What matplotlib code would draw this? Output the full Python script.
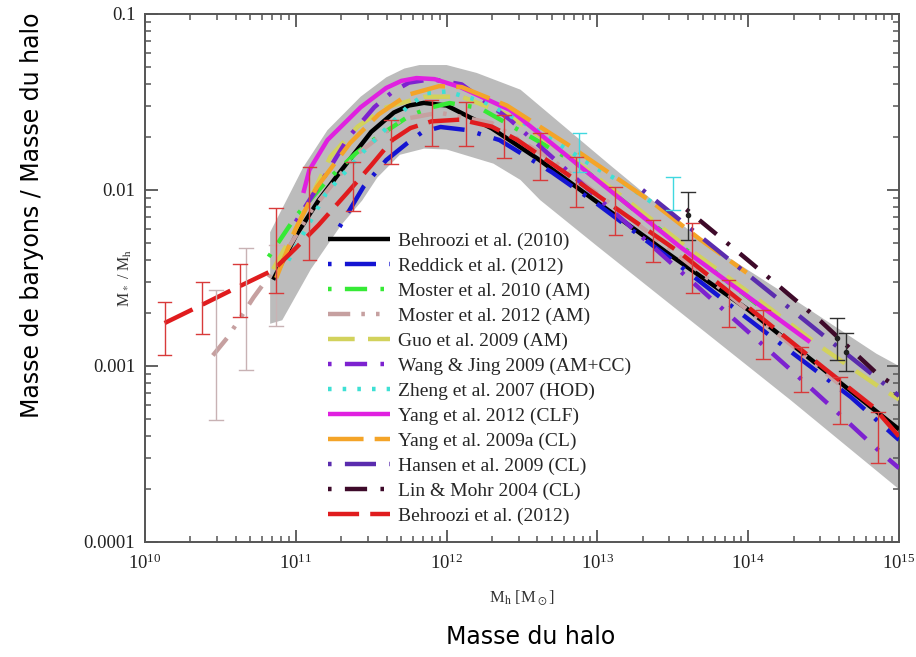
import numpy as np
import matplotlib
matplotlib.use("Agg")
import matplotlib.pyplot as plt
from matplotlib.ticker import LogLocator, FixedLocator, FixedFormatter, NullFormatter

plt.rcParams['mathtext.fontset'] = 'stix'
plt.rcParams['font.family'] = ['Liberation Serif', 'DejaVu Serif']

# ---------------- data (log10 values) ----------------
band_lx = [10.83, 11.05, 11.21, 11.43, 11.60, 11.72, 11.82, 12.00, 12.20, 12.49, 13.10, 13.68, 14.30, 14.85, 15.00]
band_up = [-2.24, -1.87, -1.66, -1.47, -1.36, -1.31, -1.29, -1.29, -1.335, -1.43, -1.87, -2.28, -2.62, -2.93, -3.00]
band_lo_lx = [10.83, 10.91, 11.10, 11.30, 11.44, 11.54, 11.69, 11.85, 12.00, 12.31, 12.49, 12.62, 13.00, 14.28, 15.00]
band_lo = [-2.76, -2.74, -2.45, -2.20, -2.06, -1.93, -1.80, -1.765, -1.77, -1.85, -1.943, -2.057, -2.32, -3.193, -3.70]

beh10_lx = [10.85, 11.0, 11.15, 11.3, 11.5, 11.65, 11.75, 11.85, 12.0, 12.3, 12.6, 13.0, 13.5, 14.0, 14.5, 15.0]
beh10_ly = [-2.51, -2.26, -2.06, -1.89, -1.67, -1.56, -1.52, -1.505, -1.52, -1.65, -1.82, -2.07, -2.38, -2.68, -3.02, -3.36]

red12_lx = [11.29, 11.45, 11.6, 11.74, 11.84, 11.96, 12.14, 12.35, 12.7, 13.0, 13.5, 13.95, 14.3, 14.68, 15.0]
red12_ly = [-2.21, -1.98, -1.83, -1.733, -1.67, -1.642, -1.66, -1.716, -1.90, -2.08, -2.40, -2.70, -2.93, -3.176, -3.42]

mos10_lx = [10.82, 11.0, 11.21, 11.4, 11.54, 11.75, 11.9, 12.02, 12.22, 12.5, 12.86, 13.24, 13.68, 14.06]
mos10_ly = [-2.38, -2.15, -1.943, -1.79, -1.70, -1.58, -1.53, -1.506, -1.534, -1.67, -1.847, -2.11, -2.40, -2.65]

mos12_lx = [10.45, 10.55, 10.72, 10.9, 11.1, 11.4, 11.7, 11.95, 12.3, 12.7, 13.2, 13.7, 14.2, 14.6]
mos12_ly = [-2.94, -2.835, -2.61, -2.40, -2.12, -1.80, -1.60, -1.56, -1.62, -1.83, -2.15, -2.48, -2.82, -3.10]

guo_lx = [10.85, 11.0, 11.23, 11.41, 11.6, 11.85, 12.1, 12.4, 12.8, 13.2, 13.6, 14.0, 14.48, 14.87, 15.0]
guo_ly = [-2.45, -2.22, -1.81, -1.64, -1.53, -1.47, -1.47, -1.57, -1.80, -2.06, -2.33, -2.58, -2.89, -3.12, -3.19]

wang_lx = [11.0, 11.2, 11.35, 11.52, 11.64, 11.75, 11.9, 12.1, 12.42, 12.8, 13.3, 13.77, 14.28, 14.6, 14.89, 15.0]
wang_ly = [-2.18, -1.91, -1.70, -1.53, -1.443, -1.39, -1.37, -1.40, -1.60, -1.89, -2.27, -2.63, -3.02, -3.27, -3.50, -3.58]

zheng_lx = [10.95, 11.2, 11.45, 11.6, 11.75, 11.87, 12.0, 12.25, 12.6, 13.0, 13.17, 13.5]
zheng_ly = [-2.40, -2.02, -1.78, -1.65, -1.52, -1.45, -1.44, -1.50, -1.66, -1.88, -1.96, -2.15]

yang12_lx = [11.05, 11.09, 11.21, 11.43, 11.6, 11.70, 11.80, 11.92, 12.09, 12.42, 13.0, 13.55, 14.0, 14.41]
yang12_ly = [-2.017, -1.886, -1.716, -1.53, -1.42, -1.38, -1.364, -1.37, -1.415, -1.545, -1.945, -2.324, -2.607, -2.864]

yang09_lx = [10.87, 11.0, 11.14, 11.36, 11.55, 11.74, 11.95, 12.1, 12.4, 12.8, 13.37, 13.68, 13.99]
yang09_ly = [-2.50, -2.22, -1.983, -1.733, -1.57, -1.46, -1.41, -1.415, -1.52, -1.74, -2.074, -2.28, -2.47]

hansen_lx = [13.3, 13.77, 14.2, 14.46, 14.87, 15.0]
hansen_ly = [-2.00, -2.324, -2.62, -2.80, -3.08, -3.17]

lin_lx = [13.59, 14.0, 14.48, 14.85, 15.0]
lin_ly = [-2.11, -2.40, -2.745, -3.04, -3.13]

beh12_lx = [10.13, 10.4, 10.6, 10.85, 11.0, 11.15, 11.34, 11.5, 11.64, 11.76, 11.9, 12.09, 12.3, 12.47, 12.8, 13.2, 13.55, 14.0, 14.5, 14.83, 15.0]
beh12_ly = [-2.756, -2.643, -2.558, -2.455, -2.33, -2.20, -2.017, -1.86, -1.716, -1.648, -1.61, -1.60, -1.64, -1.716, -1.91, -2.15, -2.358, -2.666, -3.01, -3.233, -3.40]

# error bars of Behroozi et al. (2012): x, upper, lower (log10)
err_lx = [10.13, 10.38, 10.63, 10.87, 11.09, 11.38, 11.63, 11.90, 12.13, 12.38, 12.62, 12.86, 13.12, 13.37, 13.63, 13.87, 14.10, 14.35, 14.61, 14.86]
err_hi = [-2.636, -2.52, -2.42, -2.10, -1.87, -1.84, -1.60, -1.49, -1.50, -1.574, -1.676, -1.812, -1.983, -2.17, -2.19, -2.51, -2.68, -2.89, -3.06, -3.26]
err_lo = [-2.94, -2.82, -2.72, -2.585, -2.40, -2.12, -1.85, -1.75, -1.75, -1.818, -1.943, -2.097, -2.256, -2.41, -2.585, -2.78, -2.96, -3.15, -3.33, -3.55]

# light (Moster 2012) error bars
gerr_lx = [10.47, 10.67, 10.87]
gerr_hi = [-2.568, -2.33, -2.31]
gerr_lo = [-3.307, -3.023, -2.77]

# cyan error bars
cerr_lx = [12.88, 13.50]
cerr_hi = [-1.676, -1.926]
cerr_lo = [-1.90, -2.114]

# dark cluster points with error bars
kerr_lx = [13.60, 14.59, 14.65]
kerr_y = [-2.14, -2.84, -2.92]
kerr_hi = [-2.011, -2.727, -2.81]
kerr_lo = [-2.284, -2.966, -3.03]

labels = ["Behroozi et al. (2010)", "Reddick et al. (2012)", "Moster et al. 2010 (AM)",
          "Moster et al. 2012 (AM)", "Guo et al. 2009 (AM)", "Wang & Jing 2009 (AM+CC)",
          "Zheng et al. 2007 (HOD)", "Yang et al. 2012 (CLF)", "Yang et al. 2009a (CL)",
          "Hansen et al. 2009 (CL)", "Lin & Mohr 2004 (CL)", "Behroozi et al. (2012)"]

# ---------------- figure ----------------
fig = plt.figure(figsize=(9.16, 6.57), dpi=100)
ax = fig.add_axes([145/916, 1-542/657, 754/916, 528/657])
ax.set_xscale('log')
ax.set_yscale('log')
ax.set_xlim(1e10, 1e15)
ax.set_ylim(1e-4, 1e-1)

p = lambda v: 10.0 ** np.asarray(v)

# grey band
ax.fill(np.concatenate([p(band_lx), p(band_lo_lx)[::-1]]),
        np.concatenate([p(band_up), p(band_lo)[::-1]]),
        color='#bcbcbc', lw=0, zorder=1)

lw = 3.2
styles = [
    (beh10_lx, beh10_ly, '#000000', '-', None),
    (red12_lx, red12_ly, '#1414d2', '--', (0.8, 3, 7, 3)),
    (mos10_lx, mos10_ly, '#36ea36', '--', (0.8, 3, 5, 3)),
    (mos12_lx, mos12_ly, '#c6a0a0', '--', (5, 2.5, 0.8, 2.5, 0.8, 2.5)),
    (guo_lx, guo_ly, '#d2d25c', '--', (6, 3)),
    (wang_lx, wang_ly, '#7d22d0', '--', (0.8, 3, 5, 3)),
    (zheng_lx, zheng_ly, '#3ee0d4', '--', (0.8, 2.5)),
    (yang12_lx, yang12_ly, '#e020e0', '-', None),
    (yang09_lx, yang09_ly, '#f4a428', '--', (8, 2.5)),
    (hansen_lx, hansen_ly, '#5a2cae', '--', (0.8, 3, 7, 3)),
    (lin_lx, lin_ly, '#3e0a2a', '--', (0.8, 3, 5, 3)),
    (beh12_lx, beh12_ly, '#e01c1e', '--', (7, 2.5)),
]
handles = []
for (xs, ys, c, ls, dsh), lab in zip(styles, labels):
    kw = dict(color=c, lw=lw, zorder=3, label=lab, solid_capstyle='butt',
              dash_capstyle='butt', solid_joinstyle='round')
    if dsh is not None:
        kw['dashes'] = dsh
    h, = ax.plot(p(xs), p(ys), **kw)
    handles.append(h)

def bars(xs, hi, lo, color, lw_=1.0, z=4):
    x = p(xs)
    ax.vlines(x, p(lo), p(hi), color=color, lw=lw_, zorder=z)
    for xv, a, b in zip(x, p(lo), p(hi)):
        for yv in (a, b):
            ax.plot([xv / 10**0.045, xv * 10**0.045], [yv, yv], color=color, lw=lw_, zorder=z)

bars(gerr_lx, gerr_hi, gerr_lo, '#c8b2b4')
bars(cerr_lx, cerr_hi, cerr_lo, '#40d8e0')
bars(kerr_lx, kerr_hi, kerr_lo, '#303030')
ax.plot(p(kerr_lx), p(kerr_y), 'o', color='#202020', ms=3, zorder=4)
bars(err_lx, err_hi, err_lo, '#d83a3a')

# ticks
spc = '#555555'
for s in ax.spines.values():
    s.set_color(spc)
    s.set_linewidth(1.4)
ax.xaxis.set_major_locator(LogLocator(base=10, numticks=10))
ax.xaxis.set_minor_locator(LogLocator(base=10, subs=np.arange(2, 10), numticks=20))
ax.xaxis.set_minor_formatter(NullFormatter())
ax.yaxis.set_major_locator(FixedLocator([1e-4, 1e-3, 1e-2, 1e-1]))
ax.yaxis.set_major_formatter(FixedFormatter(['0.0001', '0.001', '0.01', '0.1']))
ax.yaxis.set_minor_locator(LogLocator(base=10, subs=np.arange(2, 10), numticks=20))
ax.yaxis.set_minor_formatter(NullFormatter())
ax.tick_params(which='both', direction='in', top=True, right=True, color=spc, labelcolor='#222222')
ax.tick_params(which='major', length=9, width=1.3, labelsize=13.5)
ax.tick_params(which='minor', length=4.5, width=1.1)
ax.tick_params(axis='x', which='major', pad=8)
ax.tick_params(axis='y', which='major', pad=7)

ax.set_xlabel(r'M$_\mathrm{h}$ [M$_\odot$]', fontsize=12, color='#333333')
ax.xaxis.set_label_coords(0.5, -0.087)
ax.set_ylabel(r'M$_*$ / M$_\mathrm{h}$', fontsize=11.5, color='#333333')
ax.yaxis.set_label_coords(-0.015, 0.5)

leg = ax.legend(handles=handles, loc='upper left', bbox_to_anchor=(328/916, 1-232/657),
                bbox_transform=fig.transFigure, frameon=False, fontsize=14,
                handlelength=3.2, handletextpad=0.4, labelspacing=0.38, borderpad=0,
                borderaxespad=0)
for t in leg.get_texts():
    t.set_color('#262626')

fig.text(32/916, 1-215/657, 'Masse de baryons / Masse du halo', rotation=90,
         ha='center', va='center', fontsize=17, family='DejaVu Sans', color='black')
fig.text(531/916, 1-637/657, 'Masse du halo', ha='center', va='center',
         fontsize=17, family='DejaVu Sans', color='black')

fig.savefig('out.png', dpi=100)
